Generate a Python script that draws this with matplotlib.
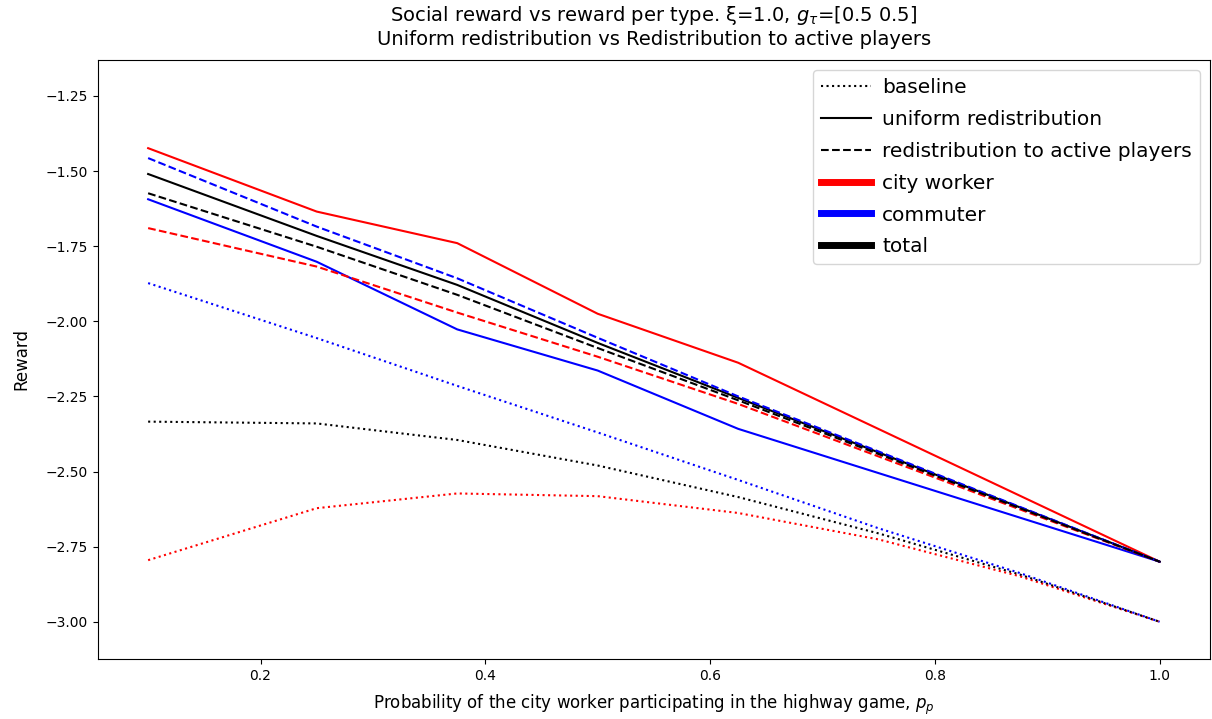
import matplotlib
matplotlib.use("Agg")
import matplotlib.pyplot as plt
from matplotlib.lines import Line2D

x_policy = [0.1, 0.25, 0.375, 0.5, 0.625, 1.0]
x_base = [0.1, 0.25, 0.375, 0.5, 0.625, 0.75, 0.875, 1.0]

base_city = [-2.795, -2.622, -2.573, -2.582, -2.638, -2.726, -2.848, -3.0]
base_comm = [-1.873, -2.056, -2.215, -2.370, -2.528, -2.689, -2.837, -3.0]
base_total = [-2.334, -2.340, -2.395, -2.480, -2.585, -2.706, -2.842, -3.0]

unif_city = [-1.424, -1.635, -1.740, -1.975, -2.138, -2.80]
unif_comm = [-1.594, -1.802, -2.027, -2.164, -2.358, -2.80]
unif_total = [-1.510, -1.716, -1.879, -2.072, -2.255, -2.80]

act_city = [-1.690, -1.818, -1.971, -2.118, -2.275, -2.80]
act_comm = [-1.457, -1.685, -1.857, -2.055, -2.250, -2.80]
act_total = [-1.574, -1.752, -1.912, -2.089, -2.263, -2.80]

fig = plt.figure(figsize=(12.12, 7.19), dpi=100)
ax = fig.add_axes([0.0805, 0.0834, 0.918, 0.8334])

ax.plot(x_base, base_city, color="red", linestyle=":")
ax.plot(x_base, base_comm, color="blue", linestyle=":")
ax.plot(x_base, base_total, color="black", linestyle=":")

ax.plot(x_policy, unif_city, color="red", linestyle="-")
ax.plot(x_policy, unif_comm, color="blue", linestyle="-")
ax.plot(x_policy, unif_total, color="black", linestyle="-")

ax.plot(x_policy, act_city, color="red", linestyle="--")
ax.plot(x_policy, act_comm, color="blue", linestyle="--")
ax.plot(x_policy, act_total, color="black", linestyle="--")

ax.set_ylim(-3.124, -1.13)
ax.set_xlabel("Probability of the city worker participating in the highway game, $p_p$",
              fontsize=12, labelpad=7)
ax.set_ylabel("Reward", fontsize=12, labelpad=11)
ax.set_title("Social reward vs reward per type. ξ=1.0, $g_\\tau$=[0.5 0.5]\n"
             "Uniform redistribution vs Redistribution to active players", fontsize=14, pad=11)

handles = [
    Line2D([], [], color="black", linestyle=":", label="baseline"),
    Line2D([], [], color="black", linestyle="-", label="uniform redistribution"),
    Line2D([], [], color="black", linestyle="--", label="redistribution to active players"),
    Line2D([], [], color="red", linewidth=5, label="city worker"),
    Line2D([], [], color="blue", linewidth=5, label="commuter"),
    Line2D([], [], color="black", linewidth=5, label="total"),
]
ax.legend(handles=handles, loc="upper right", fontsize=14.5, handlelength=2.5,
          handletextpad=0.55, labelspacing=0.64, borderaxespad=0.5)

fig.savefig("out.png", dpi=100)
